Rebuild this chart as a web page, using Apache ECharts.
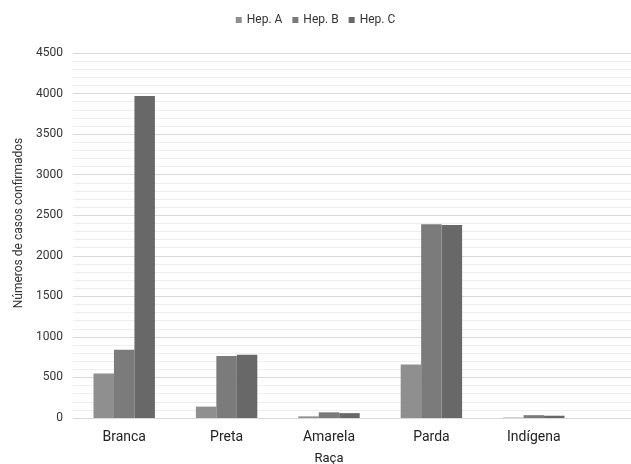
<!DOCTYPE html>
<html><head><meta charset="utf-8">
<script src="https://cdn.jsdelivr.net/npm/echarts@6/dist/echarts.min.js"></script>
<style>html,body{margin:0;padding:0;background:#fff}#c{width:631px;height:464px}</style>
</head><body><div id="c"></div>
<script>
const categories = ['Branca', 'Preta', 'Amarela', 'Parda', 'Indígena'];
const hepA = [550, 140, 20, 660, 5];
const hepB = [840, 765, 70, 2390, 35];
const hepC = [3970, 780, 60, 2380, 28];
const seriesNames = ['Hep. A', 'Hep. B', 'Hep. C'];
const colors = ['#8f8f8f', '#7b7b7b', '#686868'];

const chart = echarts.init(document.getElementById('c'));
const font = 'Roboto, "Liberation Sans", Arial, sans-serif';
const yCommon = {
  type: 'value', min: 0, max: 4500, interval: 500,
  axisLine: {show: false}, axisTick: {show: false}
};
chart.setOption({
  animation: false,
  legend: {
    data: seriesNames, top: 9, left: 'center', itemWidth: 6, itemHeight: 6, itemGap: 10,
    icon: 'rect',
    textStyle: {fontFamily: font, fontSize: 12, color: '#333'}
  },
  grid: [
    {left: 73, right: 46, top: 53, bottom: 46, outerBoundsMode: 'none', containLabel: false},
    {left: 73, right: 0, top: 53, bottom: 46, outerBoundsMode: 'none', containLabel: false}
  ],
  xAxis: [
    {type: 'category', gridIndex: 0, data: categories,
     axisLine: {show: false}, axisTick: {show: false},
     axisLabel: {fontFamily: font, fontSize: 14, color: '#222', margin: 12},
     name: 'Raça', nameLocation: 'middle', nameGap: 34,
     nameTextStyle: {fontFamily: font, fontSize: 13, color: '#222'}},
    {type: 'category', gridIndex: 1, data: categories, show: false}
  ],
  yAxis: [
    Object.assign({}, yCommon, {gridIndex: 0,
      axisLabel: {fontFamily: font, fontSize: 12, color: '#333', margin: 10, formatter: v => String(v)},
      splitLine: {show: false},
      name: 'Números de casos confirmados', nameLocation: 'middle', nameGap: 47,
      nameTextStyle: {fontFamily: font, fontSize: 12, color: '#333', padding: [0, 0, 0, 25]}
    }),
    Object.assign({}, yCommon, {gridIndex: 1, axisLabel: {show: false},
      splitLine: {show: true, lineStyle: {color: '#d9d9d9', width: 1}},
      minorTick: {show: false, splitNumber: 5},
      minorSplitLine: {show: true, lineStyle: {color: '#eeeeee', width: 1}}
    })
  ],
  series: [
    {name: seriesNames[0], type: 'bar', data: hepA, itemStyle: {color: colors[0]}, barGap: '0%', barCategoryGap: '40%', z: 3},
    {name: seriesNames[1], type: 'bar', data: hepB, itemStyle: {color: colors[1]}, barGap: '0%', barCategoryGap: '40%', z: 3},
    {name: seriesNames[2], type: 'bar', data: hepC, itemStyle: {color: colors[2]}, barGap: '0%', barCategoryGap: '40%', z: 3}
  ]
});
</script></body></html>
